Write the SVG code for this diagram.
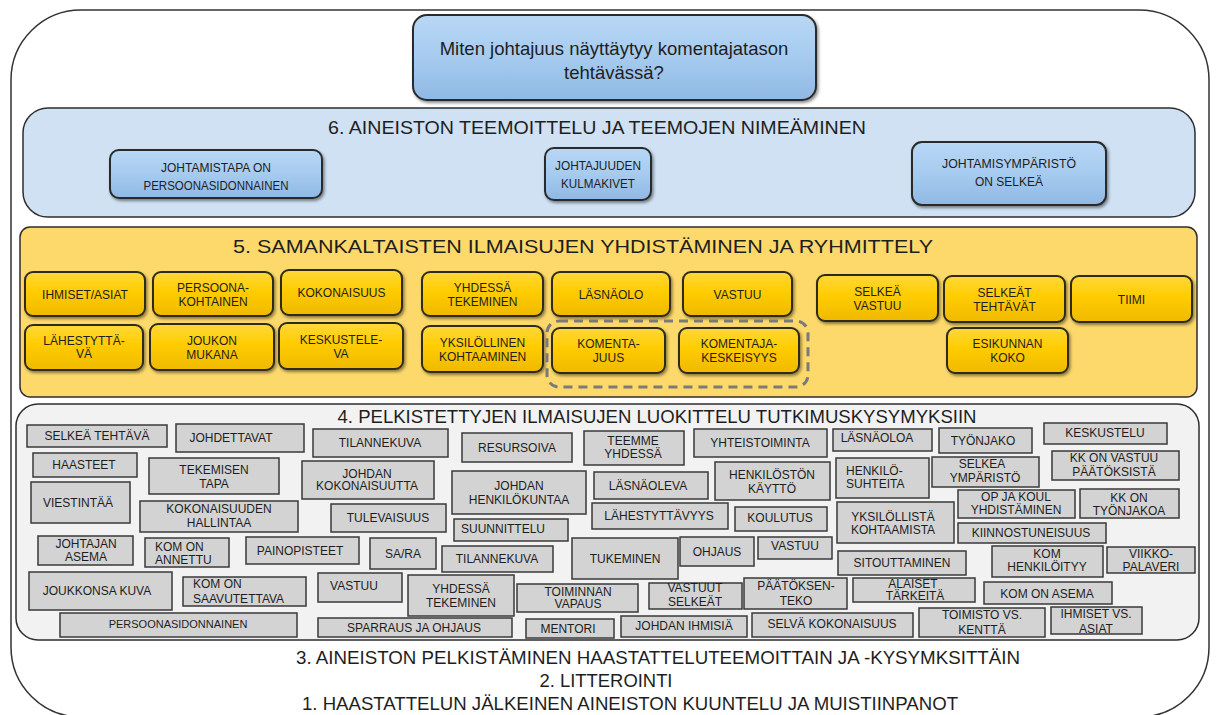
<svg xmlns="http://www.w3.org/2000/svg" width="1216" height="715" viewBox="0 0 1216 715">
  <defs>
    <linearGradient id="gBlue" x1="0" y1="0" x2="0" y2="1">
      <stop offset="0" stop-color="#b8d7f5"/>
      <stop offset="0.5" stop-color="#a6cbef"/>
      <stop offset="1" stop-color="#8fb8e4"/>
    </linearGradient>
    <linearGradient id="gYellow" x1="0" y1="0" x2="0" y2="1">
      <stop offset="0" stop-color="#ffd83a"/>
      <stop offset="0.45" stop-color="#ffcc00"/>
      <stop offset="1" stop-color="#efb900"/>
    </linearGradient>
    <filter id="shadow" x="-10%" y="-15%" width="125%" height="140%">
      <feDropShadow dx="1.5" dy="2" stdDeviation="1.4" flood-color="#000" flood-opacity="0.45"/>
    </filter>
  </defs>
  <style>
    .frame { fill: #ffffff; stroke: #333333; stroke-width: 1.5; }
    .panel6 { fill: #cfe1f3; stroke: #2e2e2e; stroke-width: 1.5; }
    .panel5 { fill: #fdd96b; stroke: #2e2e2e; stroke-width: 1.5; }
    .panel4 { fill: #f2f2f2; stroke: #2e2e2e; stroke-width: 1.5; }
    .blue { fill: url(#gBlue); stroke: #2a2a2a; stroke-width: 2; filter: url(#shadow); }
    .yel { fill: url(#gYellow); stroke: #2d2a1c; stroke-width: 2; filter: url(#shadow); }
    .grey { fill: #d3d3d3; stroke: #3a3a3a; stroke-width: 1.5; }
    .group { fill: none; stroke: #7a7a7a; stroke-width: 3; stroke-dasharray: 9 6; }
    text { font-family: "Liberation Sans", Arial, sans-serif; fill: #1e1e1e; text-anchor: middle; }
    .q { font-size: 18.5px; }
    .title { font-size: 18.5px; }
    .step { font-size: 19px; }
    .bl { font-size: 13px; }
    .yt { font-size: 12px; }
    .gt { font-size: 12px; }
    .st { text-anchor: start; }
    .sm { font-size: 11px; }
  </style>

  <!-- outer frame -->
  <rect class="frame" x="11" y="10" width="1198" height="707" rx="70"/>

  <!-- research question -->
  <g id="question">
    <rect class="blue" x="413" y="15" width="403" height="85" rx="14"/>
    <text class="q" x="614" y="55">Miten johtajuus näyttäytyy komentajatason</text>
    <text class="q" x="614" y="79">tehtävässä?</text>
  </g>

  <!-- step 6: themes -->
  <g id="step6">
    <rect class="panel6" x="23" y="108" width="1172" height="109" rx="25"/>
    <text class="title" x="597" y="134" font-size="20" textLength="538" lengthAdjust="spacingAndGlyphs">6. AINEISTON TEEMOITTELU JA TEEMOJEN NIMEÄMINEN</text>
  </g>
  <g id="theme-johtamistapa">
    <rect class="blue" x="110" y="150" width="212" height="48" rx="9"/>
    <text class="bl" x="216" y="172" textLength="110" lengthAdjust="spacingAndGlyphs">JOHTAMISTAPA ON</text>
    <text class="bl" x="216" y="190" textLength="145" lengthAdjust="spacingAndGlyphs">PERSOONASIDONNAINEN</text>
  </g>
  <g id="theme-kulmakivet">
    <rect class="blue" x="545" y="148" width="106" height="52" rx="9"/>
    <text class="bl" x="598" y="170" textLength="86" lengthAdjust="spacingAndGlyphs">JOHTAJUUDEN</text>
    <text class="bl" x="598" y="188" textLength="74" lengthAdjust="spacingAndGlyphs">KULMAKIVET</text>
  </g>
  <g id="theme-ymparisto">
    <rect class="blue" x="912" y="142" width="194" height="63" rx="10"/>
    <text class="bl" x="1009" y="168" textLength="134" lengthAdjust="spacingAndGlyphs">JOHTAMISYMPÄRISTÖ</text>
    <text class="bl" x="1009" y="186" textLength="68" lengthAdjust="spacingAndGlyphs">ON SELKEÄ</text>
  </g>

  <!-- step 5: grouping -->
  <g id="step5">
    <rect class="panel5" x="20" y="227" width="1177" height="170" rx="10"/>
    <text class="title" x="583" y="252.5" font-size="21" textLength="700" lengthAdjust="spacingAndGlyphs">5. SAMANKALTAISTEN ILMAISUJEN YHDISTÄMINEN JA RYHMITTELY</text>
  </g>
  <g id="y-ihmiset-asiat"><rect class="yel" x="25" y="272" width="120" height="44" rx="8"/><text class="yt" x="85" y="298.5">IHMISET/ASIAT</text></g>
  <g id="y-persoonakohtainen"><rect class="yel" x="153" y="272" width="120" height="44" rx="8"/><text class="yt" x="213" y="291.5">PERSOONA-</text><text class="yt" x="213" y="305.5">KOHTAINEN</text></g>
  <g id="y-kokonaisuus"><rect class="yel" x="281" y="270" width="121" height="45" rx="8"/><text class="yt" x="341.5" y="297">KOKONAISUUS</text></g>
  <g id="y-lahestyttava"><rect class="yel" x="25" y="325" width="118" height="45" rx="8"/><text class="yt" x="84" y="344.5">LÄHESTYTTÄ-</text><text class="yt" x="84" y="358">VÄ</text></g>
  <g id="y-joukon-mukana"><rect class="yel" x="150" y="324" width="124" height="46" rx="8"/><text class="yt" x="212" y="344.5">JOUKON</text><text class="yt" x="212" y="358.5">MUKANA</text></g>
  <g id="y-keskusteleva"><rect class="yel" x="279" y="323" width="124" height="46" rx="8"/><text class="yt" x="341" y="343.5">KESKUSTELE-</text><text class="yt" x="341" y="357.5">VA</text></g>
  <g id="y-yhdessa-tekeminen"><rect class="yel" x="422" y="272" width="121" height="44" rx="8"/><text class="yt" x="482.5" y="291.5">YHDESSÄ</text><text class="yt" x="482.5" y="305.5">TEKEMINEN</text></g>
  <g id="y-lasnaolo"><rect class="yel" x="552" y="272" width="118" height="44" rx="8"/><text class="yt" x="611" y="298.5">LÄSNÄOLO</text></g>
  <g id="y-vastuu"><rect class="yel" x="683" y="272" width="109" height="44" rx="8"/><text class="yt" x="737.5" y="298.5">VASTUU</text></g>
  <g id="y-yksilollinen"><rect class="yel" x="422" y="326" width="121" height="46" rx="8"/><text class="yt" x="482.5" y="346.5">YKSILÖLLINEN</text><text class="yt" x="482.5" y="360.5">KOHTAAMINEN</text></g>
  <g id="y-komentajuus"><rect class="yel" x="552" y="328" width="113" height="45" rx="8"/><text class="yt" x="608.5" y="348">KOMENTA-</text><text class="yt" x="608.5" y="362">JUUS</text></g>
  <g id="y-komentajakeskeisyys"><rect class="yel" x="679" y="328" width="120" height="45" rx="8"/><text class="yt" x="739" y="348">KOMENTAJA-</text><text class="yt" x="739" y="362">KESKEISYYS</text></g>
  <g id="y-selkea-vastuu"><rect class="yel" x="817" y="275" width="121" height="46" rx="8"/><text class="yt" x="877.5" y="295.5">SELKEÄ</text><text class="yt" x="877.5" y="309.5">VASTUU</text></g>
  <g id="y-selkeat-tehtavat"><rect class="yel" x="944" y="276" width="121" height="46" rx="8"/><text class="yt" x="1004.5" y="296.5">SELKEÄT</text><text class="yt" x="1004.5" y="310.5">TEHTÄVÄT</text></g>
  <g id="y-tiimi"><rect class="yel" x="1071" y="276" width="121" height="46" rx="8"/><text class="yt" x="1131.5" y="303.5">TIIMI</text></g>
  <g id="y-esikunnan-koko"><rect class="yel" x="947" y="328" width="121" height="45" rx="8"/><text class="yt" x="1007.5" y="348">ESIKUNNAN</text><text class="yt" x="1007.5" y="362">KOKO</text></g>

  <!-- dashed grouping around the two command-related categories -->
  <g id="connectors">
    <rect class="group" x="547" y="321" width="261" height="66" rx="12"/>
  </g>

  <!-- step 4: classification -->
  <g id="step4">
    <rect class="panel4" x="16" y="404" width="1183" height="236" rx="22"/>
    <text class="title" x="657" y="422.5" textLength="639" lengthAdjust="spacingAndGlyphs">4. PELKISTETTYJEN ILMAISUJEN LUOKITTELU TUTKIMUSKYSYMYKSIIN</text>
  </g>
  <g id="g-selkea-tehtava"><rect class="grey" x="27" y="425" width="140" height="22"/><text class="gt" x="97" y="439.5">SELKEÄ TEHTÄVÄ</text></g>
  <g id="g-johdettavat"><rect class="grey" x="176" y="424" width="128" height="28"/><text class="gt" x="231" y="441.5">JOHDETTAVAT</text></g>
  <g id="g-haasteet"><rect class="grey" x="33" y="453" width="104" height="24"/><text class="gt" x="84" y="468.5">HAASTEET</text></g>
  <g id="g-tekemisen-tapa"><rect class="grey" x="149" y="458" width="130" height="36"/><text class="gt" x="214" y="473.5">TEKEMISEN</text><text class="gt" x="214" y="487.5">TAPA</text></g>
  <g id="g-viestintaa"><rect class="grey" x="31" y="482" width="99" height="41"/><text class="gt" x="78" y="506.5">VIESTINTÄÄ</text></g>
  <g id="g-kokonaisuuden-hallintaa"><rect class="grey" x="140" y="501" width="158" height="31"/><text class="gt" x="219" y="512.5">KOKONAISUUDEN</text><text class="gt" x="219" y="526.5">HALLINTAA</text></g>
  <g id="g-johtajan-asema"><rect class="grey" x="38" y="536" width="95" height="29"/><text class="gt" x="86" y="547.5">JOHTAJAN</text><text class="gt" x="86" y="560.5">ASEMA</text></g>
  <g id="g-kom-on-annettu"><rect class="grey" x="145" y="538" width="84" height="29"/><text class="gt st" x="155" y="550.5">KOM ON</text><text class="gt st" x="155" y="563.5">ANNETTU</text></g>
  <g id="g-painopisteet"><rect class="grey" x="246" y="537" width="113" height="27"/><text class="gt" x="300" y="554.5">PAINOPISTEET</text></g>
  <g id="g-joukkonsa-kuva"><rect class="grey" x="29" y="572" width="143" height="38"/><text class="gt" x="97" y="594.5">JOUKKONSA KUVA</text></g>
  <g id="g-kom-on-saavutettava"><rect class="grey" x="183" y="577" width="123" height="29"/><text class="gt st" x="193" y="587.5">KOM ON</text><text class="gt st" x="193" y="602.5">SAAVUTETTAVA</text></g>
  <g id="g-persoonasidonnainen"><rect class="grey" x="60" y="613" width="237" height="24"/><text class="gt sm" x="178" y="628">PERSOONASIDONNAINEN</text></g>
  <g id="g-tilannekuva-1"><rect class="grey" x="313" y="429" width="135" height="28"/><text class="gt" x="380" y="446.5">TILANNEKUVA</text></g>
  <g id="g-resursoiva"><rect class="grey" x="462" y="433" width="110" height="29"/><text class="gt" x="517" y="451.5">RESURSOIVA</text></g>
  <g id="g-johdan-kokonaisuutta"><rect class="grey" x="302" y="461" width="132" height="38"/><text class="gt" x="367" y="477.5">JOHDAN</text><text class="gt" x="367" y="489.5">KOKONAISUUTTA</text></g>
  <g id="g-johdan-henkilokuntaa"><rect class="grey" x="452" y="471" width="134" height="43"/><text class="gt" x="519" y="489.5">JOHDAN</text><text class="gt" x="519" y="503.5">HENKILÖKUNTAA</text></g>
  <g id="g-tulevaisuus"><rect class="grey" x="331" y="504" width="115" height="28"/><text class="gt" x="388" y="521.5">TULEVAISUUS</text></g>
  <g id="g-suunnittelu"><rect class="grey" x="454" y="519" width="114" height="22"/><text class="gt" x="503" y="532.5">SUUNNITTELU</text></g>
  <g id="g-sara"><rect class="grey" x="370" y="538" width="66" height="31"/><text class="gt" x="403" y="557.5">SA/RA</text></g>
  <g id="g-tilannekuva-2"><rect class="grey" x="442" y="546" width="111" height="26"/><text class="gt" x="497" y="562.5">TILANNEKUVA</text></g>
  <g id="g-vastuu-1"><rect class="grey" x="318" y="573" width="84" height="29"/><text class="gt" x="354" y="589.5">VASTUU</text></g>
  <g id="g-yhdessa-tekeminen"><rect class="grey" x="408" y="575" width="106" height="41"/><text class="gt" x="461" y="592.5">YHDESSÄ</text><text class="gt" x="461" y="606.5">TEKEMINEN</text></g>
  <g id="g-sparraus"><rect class="grey" x="318" y="618" width="194" height="19"/><text class="gt" x="414" y="631.5">SPARRAUS JA OHJAUS</text></g>
  <g id="g-toiminnan-vapaus"><rect class="grey" x="517" y="584" width="121" height="28"/><text class="gt" x="578" y="595.5">TOIMINNAN</text><text class="gt" x="578" y="607.5">VAPAUS</text></g>
  <g id="g-mentori"><rect class="grey" x="526" y="619" width="88" height="19"/><text class="gt" x="568" y="632.5">MENTORI</text></g>
  <g id="g-teemme-yhdessa"><rect class="grey" x="584" y="431" width="100" height="34"/><text class="gt" x="633" y="444.5">TEEMME</text><text class="gt" x="633" y="457.5">YHDESSÄ</text></g>
  <g id="g-yhteistoiminta"><rect class="grey" x="694" y="429" width="133" height="28"/><text class="gt" x="760" y="446.5">YHTEISTOIMINTA</text></g>
  <g id="g-lasnaoloa"><rect class="grey" x="833" y="429" width="99" height="22"/><text class="gt" x="877" y="441.5">LÄSNÄOLOA</text></g>
  <g id="g-lasnaoleva"><rect class="grey" x="594" y="472" width="114" height="27"/><text class="gt" x="648" y="489.5">LÄSNÄOLEVA</text></g>
  <g id="g-henkiloston-kaytto"><rect class="grey" x="715" y="462" width="115" height="38"/><text class="gt" x="772" y="478.5">HENKILÖSTÖN</text><text class="gt" x="772" y="492.5">KÄYTTÖ</text></g>
  <g id="g-henkilosuhteita"><rect class="grey" x="836" y="458" width="93" height="40"/><text class="gt st" x="846" y="474.5">HENKILÖ-</text><text class="gt st" x="846" y="487.5">SUHTEITA</text></g>
  <g id="g-lahestyttavyys"><rect class="grey" x="592" y="503" width="136" height="26"/><text class="gt" x="659" y="519.5">LÄHESTYTTÄVYYS</text></g>
  <g id="g-koulutus"><rect class="grey" x="735" y="507" width="92" height="24"/><text class="gt" x="780" y="521.5">KOULUTUS</text></g>
  <g id="g-yksilollista"><rect class="grey" x="837" y="502" width="117" height="41"/><text class="gt" x="893" y="520.5">YKSILÖLLISTÄ</text><text class="gt" x="893" y="533.5">KOHTAAMISTA</text></g>
  <g id="g-tukeminen"><rect class="grey" x="572" y="538" width="106" height="41"/><text class="gt" x="625" y="562.5">TUKEMINEN</text></g>
  <g id="g-ohjaus"><rect class="grey" x="680" y="537" width="74" height="29"/><text class="gt" x="717" y="555.5">OHJAUS</text></g>
  <g id="g-vastuu-2"><rect class="grey" x="758" y="537" width="74" height="22"/><text class="gt" x="795" y="549.5">VASTUU</text></g>
  <g id="g-sitouttaminen"><rect class="grey" x="838" y="551" width="128" height="24"/><text class="gt" x="902" y="566.5">SITOUTTAMINEN</text></g>
  <g id="g-vastuut-selkeat"><rect class="grey" x="649" y="583" width="93" height="26"/><text class="gt" x="695" y="591.5">VASTUUT</text><text class="gt" x="695" y="606">SELKEÄT</text></g>
  <g id="g-paatoksenteko"><rect class="grey" x="744" y="578" width="103" height="31"/><text class="gt" x="796" y="589.5">PÄÄTÖKSEN-</text><text class="gt" x="796" y="604.5">TEKO</text></g>
  <g id="g-alaiset-tarkeita"><rect class="grey" x="853" y="578" width="122" height="24"/><text class="gt" x="913" y="587.5">ALAISET</text><text class="gt" x="915" y="600">TÄRKEITÄ</text></g>
  <g id="g-johdan-ihmisia"><rect class="grey" x="621" y="616" width="126" height="21"/><text class="gt" x="684" y="629.5">JOHDAN IHMISIÄ</text></g>
  <g id="g-selva-kokonaisuus"><rect class="grey" x="752" y="613" width="161" height="24"/><text class="gt" x="832" y="627.5">SELVÄ KOKONAISUUS</text></g>
  <g id="g-tyonjako"><rect class="grey" x="939" y="428" width="93" height="25"/><text class="gt" x="983" y="444.5">TYÖNJAKO</text></g>
  <g id="g-keskustelu"><rect class="grey" x="1044" y="423" width="123" height="21"/><text class="gt" x="1105" y="436.5">KESKUSTELU</text></g>
  <g id="g-selkea-ymparisto"><rect class="grey" x="932" y="457" width="107" height="30"/><text class="gt" x="982" y="467.5">SELKEA</text><text class="gt" x="985" y="481.5">YMPÄRISTÖ</text></g>
  <g id="g-kk-vastuu"><rect class="grey" x="1052" y="451" width="127" height="29"/><text class="gt" x="1114" y="461.5">KK ON VASTUU</text><text class="gt" x="1114" y="475.5">PÄÄTÖKSISTÄ</text></g>
  <g id="g-op-koul"><rect class="grey" x="958" y="490" width="117" height="28"/><text class="gt" x="1016" y="500.5">OP JA KOUL</text><text class="gt" x="1016" y="513.5">YHDISTÄMINEN</text></g>
  <g id="g-kk-tyonjakoa"><rect class="grey" x="1080" y="489" width="99" height="29"/><text class="gt" x="1129" y="501.5">KK ON</text><text class="gt" x="1129" y="514.5">TYÖNJAKOA</text></g>
  <g id="g-kiinnostuneisuus"><rect class="grey" x="958" y="523" width="148" height="20"/><text class="gt" x="1031" y="536.5">KIINNOSTUNEISUUS</text></g>
  <g id="g-kom-henkiloityy"><rect class="grey" x="992" y="546" width="111" height="31"/><text class="gt" x="1047" y="557.5">KOM</text><text class="gt" x="1047" y="570.5">HENKILÖITYY</text></g>
  <g id="g-viikkopalaveri"><rect class="grey" x="1107" y="547" width="88" height="26"/><text class="gt" x="1151" y="558">VIIKKO-</text><text class="gt" x="1151" y="570.5">PALAVERI</text></g>
  <g id="g-kom-on-asema"><rect class="grey" x="984" y="582" width="128" height="22"/><text class="gt" x="1047" y="597.5">KOM ON ASEMA</text></g>
  <g id="g-toimisto-kentta"><rect class="grey" x="919" y="608" width="126" height="29"/><text class="gt" x="982" y="618.5">TOIMISTO VS.</text><text class="gt" x="982" y="633.5">KENTTÄ</text></g>
  <g id="g-ihmiset-asiat"><rect class="grey" x="1051" y="607" width="91" height="27"/><text class="gt" x="1096" y="617.5">IHMISET VS.</text><text class="gt" x="1096" y="632.5">ASIAT</text></g>

  <!-- steps 3, 2 and 1 -->
  <g id="steps-1-3">
    <text class="step" x="658" y="664" textLength="724" lengthAdjust="spacingAndGlyphs">3. AINEISTON PELKISTÄMINEN HAASTATTELUTEEMOITTAIN JA -KYSYMKSITTÄIN</text>
    <text class="step" x="606" y="687" textLength="133" lengthAdjust="spacingAndGlyphs">2. LITTEROINTI</text>
    <text class="step" x="630" y="710" textLength="656" lengthAdjust="spacingAndGlyphs">1. HAASTATTELUN JÄLKEINEN AINEISTON KUUNTELU JA MUISTIINPANOT</text>
  </g>
</svg>
